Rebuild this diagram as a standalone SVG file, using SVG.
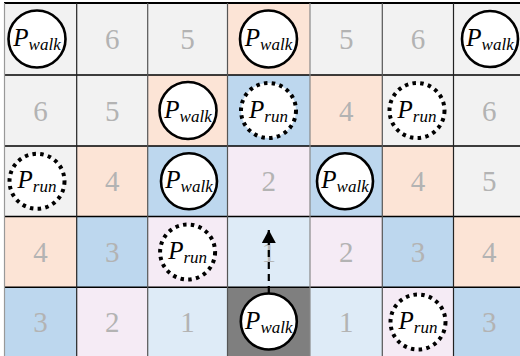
<svg xmlns="http://www.w3.org/2000/svg" width="520" height="356" viewBox="0 0 520 356">
<defs>
<style>
.g{fill:#f2f2f2}.o{fill:#fce4d6}.b{fill:#bdd7ee}.p{fill:#f5ebf5}.l{fill:#deebf7}.d{fill:#7f7f7f}
.num{font-family:Liberation Serif, DejaVu Serif, Times New Roman, Noto Serif, serif;font-size:29px;fill:#b3b3b3;text-anchor:middle}
.walk{fill:#fff;stroke:#000;stroke-width:2.6}
.run{fill:#fff;stroke:#000;stroke-width:4;stroke-dasharray:3.5 4.3}
.lbl{font-family:Liberation Serif, DejaVu Serif, Times New Roman, Noto Serif, serif;font-style:italic;font-size:25px;fill:#000;text-anchor:middle}
.sub{font-size:17px}
.hl{stroke:#000;stroke-width:1.5}
.vl{stroke:#555;stroke-width:1.2}
.conn{stroke:#000;stroke-width:2.2;stroke-dasharray:7 5;fill:none}
</style>
<marker id="ah" markerWidth="14" markerHeight="14" refX="13" refY="7" orient="auto" markerUnits="userSpaceOnUse">
<path d="M0,0 L13,7 L0,14 Z" fill="#000"/>
</marker>
</defs>
<rect width="520" height="356" fill="#fff"/>
<g id="cells">
<rect class="g" x="4.5" y="3" width="72.2" height="72"/>
<rect class="g" x="76.7" y="3" width="71" height="72"/>
<rect class="g" x="147.7" y="3" width="79.8" height="72"/>
<rect class="o" x="227.5" y="3" width="82.5" height="72"/>
<rect class="g" x="310" y="3" width="72.3" height="72"/>
<rect class="g" x="382.3" y="3" width="71.2" height="72"/>
<rect class="g" x="453.5" y="3" width="66.5" height="72"/>
<rect class="g" x="4.5" y="75" width="72.2" height="71"/>
<rect class="g" x="76.7" y="75" width="71" height="71"/>
<rect class="o" x="147.7" y="75" width="79.8" height="71"/>
<rect class="b" x="227.5" y="75" width="82.5" height="71"/>
<rect class="o" x="310" y="75" width="72.3" height="71"/>
<rect class="g" x="382.3" y="75" width="71.2" height="71"/>
<rect class="g" x="453.5" y="75" width="66.5" height="71"/>
<rect class="g" x="4.5" y="146" width="72.2" height="70.5"/>
<rect class="o" x="76.7" y="146" width="71" height="70.5"/>
<rect class="b" x="147.7" y="146" width="79.8" height="70.5"/>
<rect class="p" x="227.5" y="146" width="82.5" height="70.5"/>
<rect class="b" x="310" y="146" width="72.3" height="70.5"/>
<rect class="o" x="382.3" y="146" width="71.2" height="70.5"/>
<rect class="g" x="453.5" y="146" width="66.5" height="70.5"/>
<rect class="o" x="4.5" y="216.5" width="72.2" height="70.8"/>
<rect class="b" x="76.7" y="216.5" width="71" height="70.8"/>
<rect class="p" x="147.7" y="216.5" width="79.8" height="70.8"/>
<rect class="l" x="227.5" y="216.5" width="82.5" height="70.8"/>
<rect class="p" x="310" y="216.5" width="72.3" height="70.8"/>
<rect class="b" x="382.3" y="216.5" width="71.2" height="70.8"/>
<rect class="o" x="453.5" y="216.5" width="66.5" height="70.8"/>
<rect class="b" x="4.5" y="287.3" width="72.2" height="68.7"/>
<rect class="p" x="76.7" y="287.3" width="71" height="68.7"/>
<rect class="l" x="147.7" y="287.3" width="79.8" height="68.7"/>
<rect class="d" x="227.5" y="287.3" width="82.5" height="68.7"/>
<rect class="l" x="310" y="287.3" width="72.3" height="68.7"/>
<rect class="p" x="382.3" y="287.3" width="71.2" height="68.7"/>
<rect class="b" x="453.5" y="287.3" width="66.5" height="68.7"/>
</g>
<g id="gridlines">
<line class="hl" x1="4" y1="3" x2="520" y2="3" style="stroke-width:2"/>
<line class="hl" x1="4" y1="75" x2="520" y2="75"/>
<line class="hl" x1="4" y1="146" x2="520" y2="146"/>
<line class="hl" x1="4" y1="216.5" x2="520" y2="216.5"/>
<line class="hl" x1="4" y1="287.3" x2="520" y2="287.3"/>
<line class="vl" x1="4.5" y1="3" x2="4.5" y2="356" style="stroke:#999"/>
<line class="vl" x1="76.7" y1="3" x2="76.7" y2="356" style="stroke:#222"/>
<line class="vl" x1="147.7" y1="3" x2="147.7" y2="356"/>
<line class="vl" x1="227.5" y1="3" x2="227.5" y2="356"/>
<line class="vl" x1="310" y1="3" x2="310" y2="356" style="stroke:#888"/>
<line class="vl" x1="382.3" y1="3" x2="382.3" y2="356"/>
<line class="vl" x1="453.5" y1="3" x2="453.5" y2="356" style="stroke:#222"/>
</g>
<g id="numbers">
<text class="num" x="112.2" y="49">6</text>
<text class="num" x="187.6" y="49">5</text>
<text class="num" x="346.2" y="49">5</text>
<text class="num" x="417.9" y="49">6</text>
<text class="num" x="40.6" y="120.5">6</text>
<text class="num" x="112.2" y="120.5">5</text>
<text class="num" x="346.2" y="120.5">4</text>
<text class="num" x="489.3" y="120.5">6</text>
<text class="num" x="112.2" y="191.3">4</text>
<text class="num" x="268.8" y="191.3">2</text>
<text class="num" x="417.9" y="191.3">4</text>
<text class="num" x="489.3" y="191.3">5</text>
<text class="num" x="40.6" y="262">4</text>
<text class="num" x="112.2" y="262">3</text>
<text class="num" x="268.8" y="262">1</text>
<text class="num" x="346.2" y="262">2</text>
<text class="num" x="417.9" y="262">3</text>
<text class="num" x="489.3" y="262">4</text>
<text class="num" x="40.6" y="332">3</text>
<text class="num" x="112.2" y="332">2</text>
<text class="num" x="187.6" y="332">1</text>
<text class="num" x="346.2" y="332">1</text>
<text class="num" x="489.3" y="332">3</text>
</g>
<g id="connectors">
<line class="conn" x1="268.8" y1="293" x2="268.8" y2="230" marker-end="url(#ah)"/>
</g>
<g id="walk-r0c0"><circle class="walk" cx="37" cy="39" r="28.5"/><text class="lbl" x="37" y="46">P<tspan class="sub" dy="4">walk</tspan></text></g>
<g id="walk-r0c3"><circle class="walk" cx="268.5" cy="39" r="28.5"/><text class="lbl" x="268.5" y="46">P<tspan class="sub" dy="4">walk</tspan></text></g>
<g id="walk-r0c6"><circle class="walk" cx="490" cy="39" r="28"/><text class="lbl" x="490" y="46">P<tspan class="sub" dy="4">walk</tspan></text></g>
<g id="walk-r1c2"><circle class="walk" cx="188" cy="110.5" r="28.5"/><text class="lbl" x="188" y="117.5">P<tspan class="sub" dy="4">walk</tspan></text></g>
<g id="run-r1c3"><circle class="run" cx="268.5" cy="110.5" r="27.5"/><text class="lbl" x="268.5" y="117.5">P<tspan class="sub" dy="4">run</tspan></text></g>
<g id="run-r1c5"><circle class="run" cx="417" cy="110.5" r="27.5"/><text class="lbl" x="417" y="117.5">P<tspan class="sub" dy="4">run</tspan></text></g>
<g id="run-r2c0"><circle class="run" cx="37" cy="181.3" r="27.5"/><text class="lbl" x="37" y="188.3">P<tspan class="sub" dy="4">run</tspan></text></g>
<g id="walk-r2c2"><circle class="walk" cx="189" cy="181.3" r="28"/><text class="lbl" x="189" y="188.3">P<tspan class="sub" dy="4">walk</tspan></text></g>
<g id="walk-r2c4"><circle class="walk" cx="345" cy="181.3" r="28"/><text class="lbl" x="345" y="188.3">P<tspan class="sub" dy="4">walk</tspan></text></g>
<g id="run-r3c2"><circle class="run" cx="187.6" cy="252" r="27.5"/><text class="lbl" x="187.6" y="259">P<tspan class="sub" dy="4">run</tspan></text></g>
<g id="walk-r4c3"><circle class="walk" cx="268.8" cy="321.5" r="28"/><text class="lbl" x="268.8" y="328.5">P<tspan class="sub" dy="4">walk</tspan></text></g>
<g id="run-r4c5"><circle class="run" cx="418" cy="322" r="27.5"/><text class="lbl" x="418" y="329">P<tspan class="sub" dy="4">run</tspan></text></g>
</svg>
